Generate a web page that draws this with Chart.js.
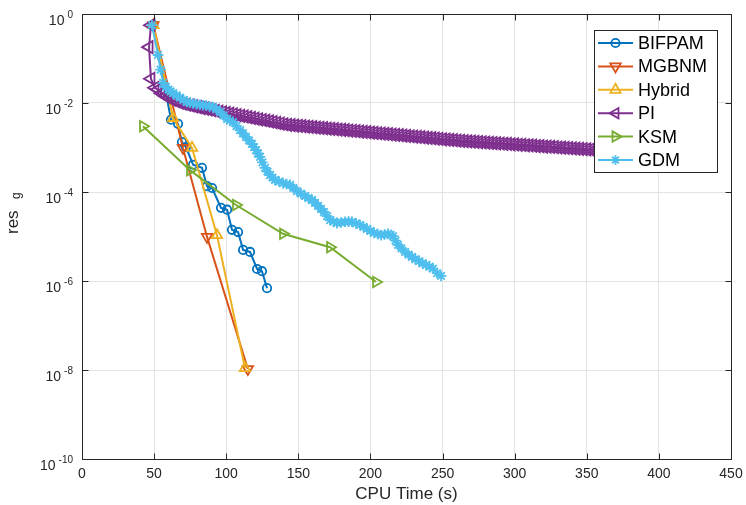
<!DOCTYPE html>
<html>
<head>
<meta charset="utf-8">
<script src="https://cdn.jsdelivr.net/npm/chart.js@4/dist/chart.umd.min.js"></script>
<style>
html,body{margin:0;padding:0;background:#fff;}
#wrap{width:746px;height:505px;}
</style>
</head>
<body>
<div id="wrap"><canvas id="c" width="746" height="505"></canvas></div>
<script>
// ---------------- data ----------------
const seriesNames = ['BIFPAM', 'MGBNM', 'Hybrid', 'PI', 'KSM', 'GDM'];

const bifpamT   = [49.5, 61.7, 66.6, 69.3, 72.1, 77.0, 83.2, 86.7, 90.2, 96.4, 100.6, 104.0, 108.2, 111.7, 116.5, 121.4, 124.8, 128.3];
const bifpamRes = [0.56, 4.2e-3, 3.4e-3, 1.32e-3, 1.02e-3, 4.1e-4, 3.5e-4, 1.35e-4, 1.23e-4, 4.4e-5, 4.0e-5, 1.41e-5, 1.26e-5, 5.0e-6, 4.5e-6, 1.86e-6, 1.66e-6, 6.9e-7];

const mgbnmT   = [49.5, 70.0, 86.7, 115.0];
const mgbnmRes = [0.56, 9.8e-4, 9.8e-6, 1.05e-8];

const hybridT   = [49.5, 63.1, 76.3, 93.6, 113.0];
const hybridRes = [0.56, 4.6e-3, 9.8e-4, 1.07e-5, 1.1e-8];

const piT = [47.8, 46.5, 47.8, 50.6, 52.5, 55, 57.5, 60, 62.5, 65, 67.5, 70, 72.5, 75, 77.5, 80, 82.5, 85, 87.5, 90, 92.5, 95, 97.5, 100, 102.5, 105, 107.5, 110, 112.5, 115, 117.5, 120, 122.5, 125, 127.5, 130, 132.5, 135, 137.5, 140, 142.5, 145, 147.5, 150, 152.5, 155, 157.5, 160, 162.5, 165, 167.5, 170, 172.5, 175, 177.5, 180, 182.5, 185, 187.5, 190, 192.5, 195, 197.5, 200, 202.5, 205, 207.5, 210, 212.5, 215, 217.5, 220, 222.5, 225, 227.5, 230, 232.5, 235, 237.5, 240, 242.5, 245, 247.5, 250, 252.5, 255, 257.5, 260, 262.5, 265, 267.5, 270, 272.5, 275, 277.5, 280, 282.5, 285, 287.5, 290, 292.5, 295, 297.5, 300, 302.5, 305, 307.5, 310, 312.5, 315, 317.5, 320, 322.5, 325, 327.5, 330, 332.5, 335, 337.5, 340, 342.5, 345, 347.5, 350, 352.5, 355, 357.5, 360, 362.5, 365, 367.5];
const piRes = [0.56, 0.18, 0.035, 0.022, 0.0200, 0.0166, 0.0145, 0.0132, 0.0117, 0.0110, 0.0102, 0.00966, 0.00923, 0.00881, 0.00841, 0.00804, 0.00771, 0.00743, 0.00716, 0.00690, 0.00667, 0.00643, 0.00619, 0.00597, 0.00575, 0.00555, 0.00536, 0.00516, 0.00498, 0.00480, 0.00462, 0.00446, 0.00431, 0.00415, 0.00400, 0.00385, 0.00372, 0.00358, 0.00346, 0.00333, 0.00322, 0.00317, 0.00311, 0.00306, 0.00301, 0.00296, 0.00291, 0.00286, 0.00281, 0.00276, 0.00271, 0.00267, 0.00262, 0.00258, 0.00253, 0.00249, 0.00245, 0.00240, 0.00236, 0.00232, 0.00228, 0.00224, 0.00221, 0.00217, 0.00213, 0.00209, 0.00206, 0.00202, 0.00199, 0.00195, 0.00192, 0.00189, 0.00186, 0.00182, 0.00179, 0.00176, 0.00173, 0.00170, 0.00167, 0.00164, 0.00162, 0.00159, 0.00156, 0.00153, 0.00151, 0.00148, 0.00146, 0.00143, 0.00141, 0.00139, 0.00137, 0.00136, 0.00134, 0.00132, 0.00131, 0.00129, 0.00127, 0.00126, 0.00124, 0.00123, 0.00121, 0.00120, 0.00118, 0.00117, 0.00115, 0.00114, 0.00112, 0.00111, 0.00110, 0.00108, 0.00107, 0.00105, 0.00104, 0.00103, 0.00102, 0.00100, 0.00099, 0.00098, 0.00097, 0.00095, 0.00094, 0.00093, 0.00092, 0.00091, 0.00090, 0.00088, 0.00087, 0.00086, 0.00085, 0.00084, 0.00083];

const ksmT   = [42.3, 74.9, 106.8, 139.4, 172.0, 203.9];
const ksmRes = [3.0e-3, 3.1e-4, 5.1e-5, 1.15e-5, 5.75e-6, 9.5e-7];

const gdmT = [48.5, 52.7, 54.5, 56.2, 58.1, 60, 61.5, 63.1, 65.5, 68, 70.4, 72.8, 74.9, 77, 79.4, 81.8, 83.9, 86, 88.4, 90.8, 93.2, 95.7, 98.1, 100.6, 102.6, 104.7, 107.1, 109.6, 111.6, 113.7, 115.8, 117.9, 119.3, 120.7, 122.0, 123.4, 125.1, 126.9, 128.6, 130.4, 132.1, 133.8, 136.6, 139.4, 141.8, 144.2, 146.6, 149.1, 151.8, 154.6, 157.0, 159.5, 161.6, 163.7, 165.7, 167.8, 169.9, 172.0, 174.4, 176.8, 179.6, 182.4, 184.8, 187.2, 190.0, 192.8, 195.2, 197.6, 200.0, 202.5, 205.0, 207.4, 209.8, 212.2, 214.0, 215.7, 217.4, 219.1, 221.5, 224.0, 226.4, 228.8, 231.2, 233.7, 236.1, 238.6, 241.0, 243.4, 246.2, 249.0];
const gdmRes = [0.562, 0.120, 0.0562, 0.0282, 0.0229, 0.0200, 0.0182, 0.0166, 0.0148, 0.0132, 0.0117, 0.0105, 0.0101, 0.00977, 0.00944, 0.00912, 0.00891, 0.00871, 0.00841, 0.00813, 0.00716, 0.00631, 0.00525, 0.00437, 0.00403, 0.00372, 0.00302, 0.00245, 0.00207, 0.00174, 0.00145, 0.00120, 0.00102, 8.71e-4, 7.33e-4, 6.17e-4, 4.62e-4, 3.47e-4, 2.88e-4, 2.40e-4, 2.11e-4, 1.86e-4, 1.72e-4, 1.58e-4, 1.51e-4, 1.45e-4, 1.23e-4, 1.05e-4, 9.23e-5, 8.13e-5, 7.33e-5, 6.61e-5, 5.69e-5, 4.90e-5, 4.17e-5, 3.55e-5, 2.88e-5, 2.34e-5, 2.16e-5, 2.00e-5, 2.07e-5, 2.14e-5, 2.16e-5, 2.14e-5, 1.97e-5, 1.82e-5, 1.64e-5, 1.48e-5, 1.33e-5, 1.20e-5, 1.14e-5, 1.07e-5, 1.11e-5, 1.15e-5, 1.08e-5, 1.02e-5, 8.1e-6, 6.5e-6, 5.4e-6, 4.5e-6, 3.9e-6, 3.5e-6, 3.1e-6, 2.8e-6, 2.5e-6, 2.3e-6, 2.1e-6, 1.9e-6, 1.5e-6, 1.3e-6];

const xTicks = [0, 50, 100, 150, 200, 250, 300, 350, 400, 450];
const yTickExps = [0, -2, -4, -6, -8, -10];
const xTitle = 'CPU Time (s)';
const yTitleMain = 'res';
const yTitleSub = 'g';

// ---------------- styles ----------------
const FONT = '"Liberation Sans", Arial, Helvetica, sans-serif';
const TXT = '#262626';
const colors = ['#0072BD', '#D95319', '#EDB120', '#7E2F8E', '#77AC30', '#4DBEEE'];
const markers = [
  {style: 'circle', rot: 0, r: 4.2, plotR: 4.2},
  {style: 'triangle', rot: 180, r: 6, plotR: 6},
  {style: 'triangle', rot: 0, r: 6, plotR: 6},
  {style: 'triangle', rot: -90, r: 6, plotR: 7},
  {style: 'triangle', rot: 90, r: 6, plotR: 6},
  {style: 'star', rot: 0, r: 4.8, plotR: 5.3}
];

function pts(t, r) { return t.map((v, i) => ({x: v, y: r[i]})); }
const allData = [pts(bifpamT, bifpamRes), pts(mgbnmT, mgbnmRes), pts(hybridT, hybridRes), pts(piT, piRes), pts(ksmT, ksmRes), pts(gdmT, gdmRes)];

const datasets = seriesNames.map((n, i) => ({
  label: n,
  data: allData[i],
  borderColor: colors[i],
  backgroundColor: colors[i],
  borderWidth: 2,
  pointStyle: markers[i].style,
  pointRotation: markers[i].rot,
  pointRadius: markers[i].plotR,
  pointBorderWidth: 1.8,
  pointBorderColor: colors[i],
  pointBackgroundColor: 'rgba(0,0,0,0)',
  pointHoverRadius: markers[i].plotR,
  tension: 0,
  order: seriesNames.length - i
}));

function drawMarker(ctx, m, color, cx, cy) {
  ctx.save();
  ctx.translate(cx, cy);
  ctx.rotate(m.rot * Math.PI / 180);
  ctx.strokeStyle = color;
  ctx.lineWidth = 1.8;
  ctx.beginPath();
  const r = m.r;
  if (m.style === 'circle') {
    ctx.arc(0, 0, r, 0, Math.PI * 2);
  } else if (m.style === 'triangle') {
    for (let k = 0; k < 3; k++) {
      const a = k * 2 * Math.PI / 3;
      const px = Math.sin(a) * r, py = -Math.cos(a) * r;
      if (k === 0) ctx.moveTo(px, py); else ctx.lineTo(px, py);
    }
    ctx.closePath();
  } else if (m.style === 'star') {
    for (let k = 0; k < 4; k++) {
      const a = k * Math.PI / 4;
      ctx.moveTo(Math.cos(a) * r, Math.sin(a) * r);
      ctx.lineTo(-Math.cos(a) * r, -Math.sin(a) * r);
    }
  }
  ctx.stroke();
  ctx.restore();
}

const deco = {
  id: 'deco',
  afterDraw(chart) {
    const {ctx, chartArea: a, scales: {x, y}} = chart;
    const L = Math.round(a.left) + 0.5, R = Math.round(a.right) + 0.5;
    const T = Math.round(a.top) + 0.5, B = Math.round(a.bottom) + 0.5;
    ctx.save();
    ctx.strokeStyle = TXT;
    ctx.lineWidth = 1;
    ctx.beginPath();
    ctx.rect(L, T, R - L, B - T);
    ctx.stroke();
    // inward ticks
    ctx.beginPath();
    xTicks.forEach(v => {
      const px = Math.round(x.getPixelForValue(v)) + 0.5;
      ctx.moveTo(px, B); ctx.lineTo(px, B - 6);
      ctx.moveTo(px, T); ctx.lineTo(px, T + 6);
    });
    yTickExps.forEach(e => {
      const py = Math.round(y.getPixelForValue(Math.pow(10, e))) + 0.5;
      ctx.moveTo(L, py); ctx.lineTo(L + 6, py);
      ctx.moveTo(R, py); ctx.lineTo(R - 6, py);
    });
    ctx.stroke();

    // y tick labels 10^e
    ctx.fillStyle = TXT;
    ctx.textBaseline = 'middle';
    yTickExps.forEach(e => {
      const py = y.getPixelForValue(Math.pow(10, e));
      const expStr = String(e);
      ctx.font = '10px ' + FONT;
      const we = ctx.measureText(expStr).width;
      const right = 73;
      ctx.textAlign = 'left';
      ctx.fillText(expStr, right - we, py + 1);
      ctx.font = '14px ' + FONT;
      ctx.textAlign = 'right';
      ctx.fillText('10', right - we - 3, py + 7);
    });

    // x title
    ctx.font = '17px ' + FONT;
    ctx.textAlign = 'center';
    ctx.textBaseline = 'middle';
    ctx.fillText(xTitle, (a.left + a.right) / 2, 494);

    // y title (rotated) res_g
    ctx.save();
    ctx.translate(18, 234);
    ctx.rotate(-Math.PI / 2);
    ctx.textAlign = 'left';
    ctx.textBaseline = 'alphabetic';
    ctx.font = '17px ' + FONT;
    ctx.fillText(yTitleMain, 0, 0);
    ctx.font = '12px ' + FONT;
    ctx.fillText(yTitleSub, 35, 2);
    ctx.restore();

    // legend
    const lx = 594.5, ly = 30.5, lw = 123, lh = 142;
    ctx.fillStyle = '#fff';
    ctx.fillRect(lx, ly, lw, lh);
    ctx.strokeStyle = TXT;
    ctx.lineWidth = 1;
    ctx.strokeRect(lx, ly, lw, lh);
    seriesNames.forEach((n, i) => {
      const cy = 43 + i * 23.4;
      ctx.strokeStyle = colors[i];
      ctx.lineWidth = 2;
      ctx.beginPath();
      ctx.moveTo(598, cy); ctx.lineTo(633, cy);
      ctx.stroke();
      drawMarker(ctx, markers[i], colors[i], 615.5, cy);
      ctx.fillStyle = '#000';
      ctx.font = '18px ' + FONT;
      ctx.textAlign = 'left';
      ctx.textBaseline = 'middle';
      ctx.fillText(n, 638, cy + 1);
    });
    ctx.restore();
  }
};

new Chart(document.getElementById('c'), {
  type: 'line',
  data: {datasets},
  options: {
    responsive: false,
    devicePixelRatio: 1,
    animation: false,
    events: [],
    layout: {padding: {left: 0, right: 15, top: 14, bottom: 0}},
    plugins: {legend: {display: false}, tooltip: {enabled: false}},
    scales: {
      x: {
        type: 'linear',
        min: 0, max: 450,
        afterBuildTicks: s => { s.ticks = xTicks.map(v => ({value: v})); },
        afterFit: s => { s.height = 46; s.paddingLeft = 0; s.paddingRight = 0; },
        ticks: {color: TXT, font: {family: FONT, size: 14}, padding: 7, maxRotation: 0, autoSkip: false},
        grid: {color: '#e3e3e3', lineWidth: 1, drawTicks: false},
        border: {display: false}
      },
      y: {
        type: 'logarithmic',
        min: 1e-10, max: 1,
        afterBuildTicks: s => { s.ticks = yTickExps.map(e => ({value: Math.pow(10, e)})); },
        afterFit: s => { s.width = 82; s.paddingTop = 0; s.paddingBottom = 0; },
        ticks: {display: false},
        grid: {color: '#e3e3e3', lineWidth: 1, drawTicks: false},
        border: {display: false}
      }
    }
  },
  plugins: [deco]
});
</script>
</body>
</html>
